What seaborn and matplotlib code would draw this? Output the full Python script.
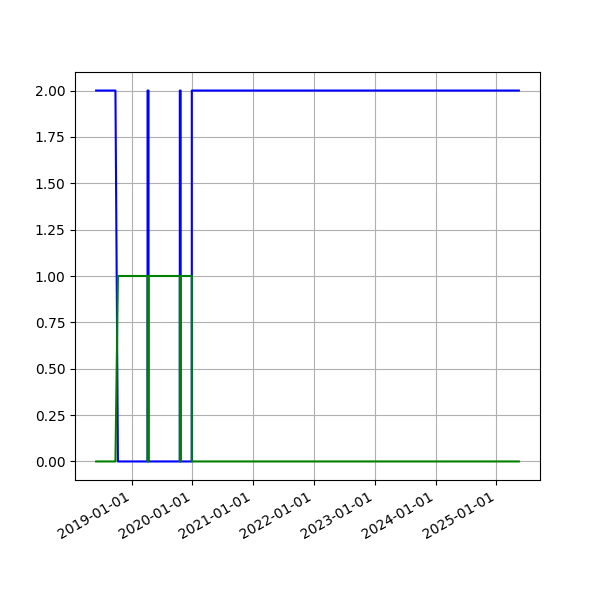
import pandas as pd
import matplotlib
matplotlib.use("Agg")
import matplotlib.pyplot as plt
import matplotlib.dates as mdates
import seaborn as sns

# Breakpoints of the two status series
blue_dates = ["2018-06-01", "2018-09-25", "2018-10-10",
              "2019-04-06", "2019-04-06", "2019-04-12", "2019-04-12",
              "2019-10-17", "2019-10-17", "2019-10-22", "2019-10-22",
              "2019-12-28", "2019-12-28", "2025-05-16"]
blue_values = [2, 2, 0,
               0, 2, 2, 0,
               0, 2, 2, 0,
               0, 2, 2]

green_dates = ["2018-06-01", "2018-09-25", "2018-10-10",
               "2019-04-06", "2019-04-06", "2019-04-12", "2019-04-12",
               "2019-10-17", "2019-10-17", "2019-10-22", "2019-10-22",
               "2019-12-28", "2019-12-28", "2025-05-16"]
green_values = [0, 0, 1,
                1, 0, 0, 1,
                1, 0, 0, 1,
                1, 0, 0]

blue = pd.DataFrame({"date": pd.to_datetime(blue_dates), "value": blue_values})
green = pd.DataFrame({"date": pd.to_datetime(green_dates), "value": green_values})

fig, ax = plt.subplots(figsize=(6, 6), dpi=100)

sns.lineplot(data=blue, x="date", y="value", color="blue",
             estimator=None, sort=False, ax=ax)
sns.lineplot(data=green, x="date", y="value", color="green",
             estimator=None, sort=False, ax=ax)

ax.xaxis.set_major_locator(mdates.YearLocator())
ax.xaxis.set_major_formatter(mdates.DateFormatter("%Y-%m-%d"))
ax.set_xlabel("")
ax.set_ylabel("")
ax.grid(True)
fig.autofmt_xdate()

plt.savefig("out.png")
